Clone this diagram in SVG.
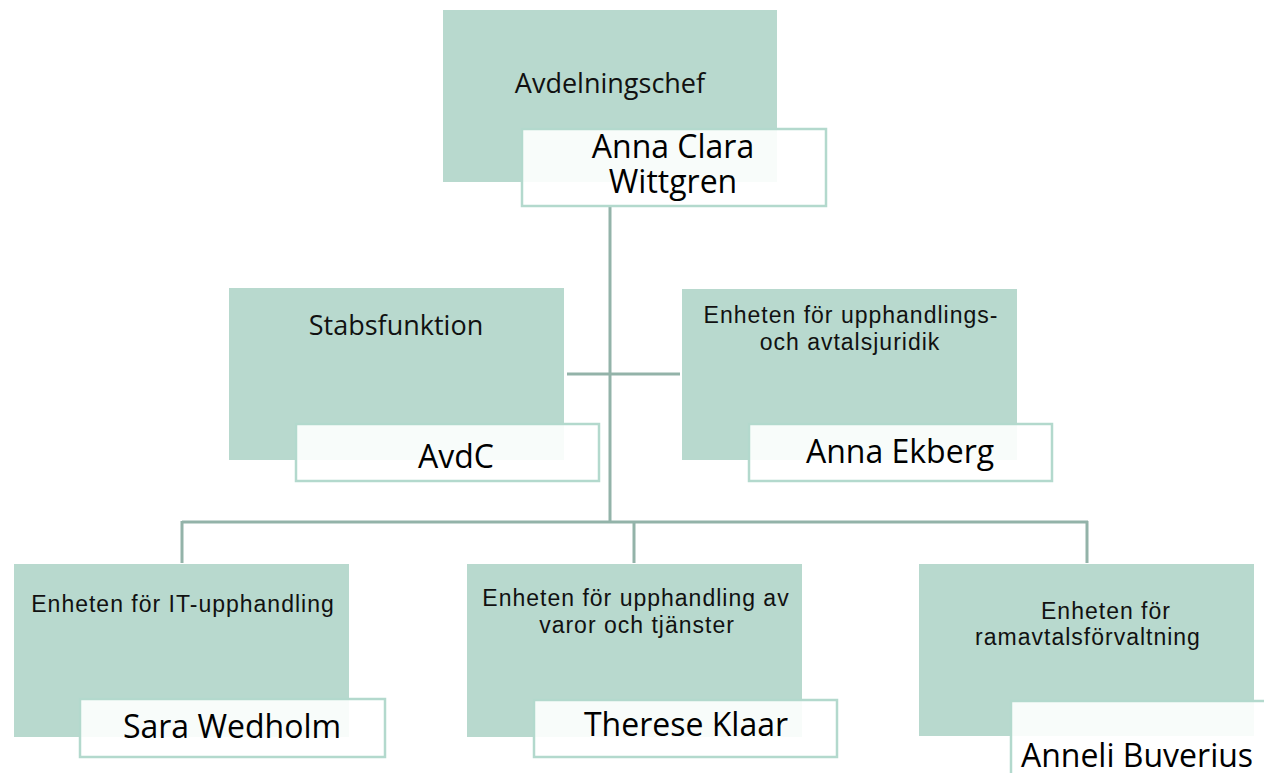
<svg xmlns="http://www.w3.org/2000/svg" width="1264" height="773" viewBox="0 0 1264 773">
<style>
.bg{fill:#b8d9ce}
.nm{fill:#ffffff;fill-opacity:0.9;stroke:#b3d9cd;stroke-width:2.5}
.cn{stroke:#93b3a9;stroke-width:3;fill:none}
.t1{font-family:"Open Sans","Noto Sans",sans-serif;font-size:27px;fill:#111;text-anchor:middle}
.t2{font-family:"Liberation Sans",Arial,sans-serif;font-size:23px;letter-spacing:1px;fill:#111;text-anchor:middle}
.t3{font-family:"Open Sans","Noto Sans",sans-serif;font-size:32px;fill:#000;text-anchor:middle}
</style>
<rect width="1264" height="773" fill="#ffffff"/>
<g id="connectors">
<path class="cn" d="M610 206V522"/>
<path class="cn" d="M567 374H680"/>
<path class="cn" d="M182 522H1088"/>
<path class="cn" d="M182 521V563"/>
<path class="cn" d="M634 521V563"/>
<path class="cn" d="M1087 521V563"/>
</g>
<g id="node-avdelningschef">
<rect class="bg" x="443" y="10" width="334" height="172"/>
<rect class="nm" x="522" y="129" width="304" height="77"/>
<text class="t1" x="610" y="93">Avdelningschef</text>
<text class="t3" x="673" y="158">Anna Clara</text>
<text class="t3" x="673" y="193">Wittgren</text>
</g>
<g id="node-stabsfunktion">
<rect class="bg" x="229" y="288" width="335" height="172"/>
<rect class="nm" x="296" y="424" width="303" height="57"/>
<text class="t1" x="396" y="335">Stabsfunktion</text>
<text class="t3" x="456" y="468">AvdC</text>
</g>
<g id="node-juridik">
<rect class="bg" x="682" y="289" width="335" height="171"/>
<rect class="nm" x="749" y="424" width="303" height="57"/>
<text class="t2" x="851" y="323">Enheten för upphandlings-</text>
<text class="t2" x="850" y="350">och avtalsjuridik</text>
<text class="t3" x="900" y="463">Anna Ekberg</text>
</g>
<g id="node-it">
<rect class="bg" x="14" y="564" width="335" height="173"/>
<rect class="nm" x="80" y="699" width="305" height="58"/>
<text class="t2" x="183" y="612">Enheten för IT-upphandling</text>
<text class="t3" x="232" y="738">Sara Wedholm</text>
</g>
<g id="node-varor">
<rect class="bg" x="467" y="564" width="335" height="173"/>
<rect class="nm" x="534" y="700" width="303" height="57"/>
<text class="t2" x="636" y="606">Enheten för upphandling av</text>
<text class="t2" x="637" y="633">varor och tjänster</text>
<text class="t3" x="686" y="736">Therese Klaar</text>
</g>
<g id="node-ramavtal">
<rect class="bg" x="919" y="564" width="335" height="172"/>
<rect class="nm" x="1011" y="701" width="300" height="100"/>
<text class="t2" x="1106" y="619">Enheten för</text>
<text class="t2" x="1088" y="645">ramavtalsförvaltning</text>
<text class="t3" x="1137" y="767">Anneli Buverius</text>
</g>
</svg>
